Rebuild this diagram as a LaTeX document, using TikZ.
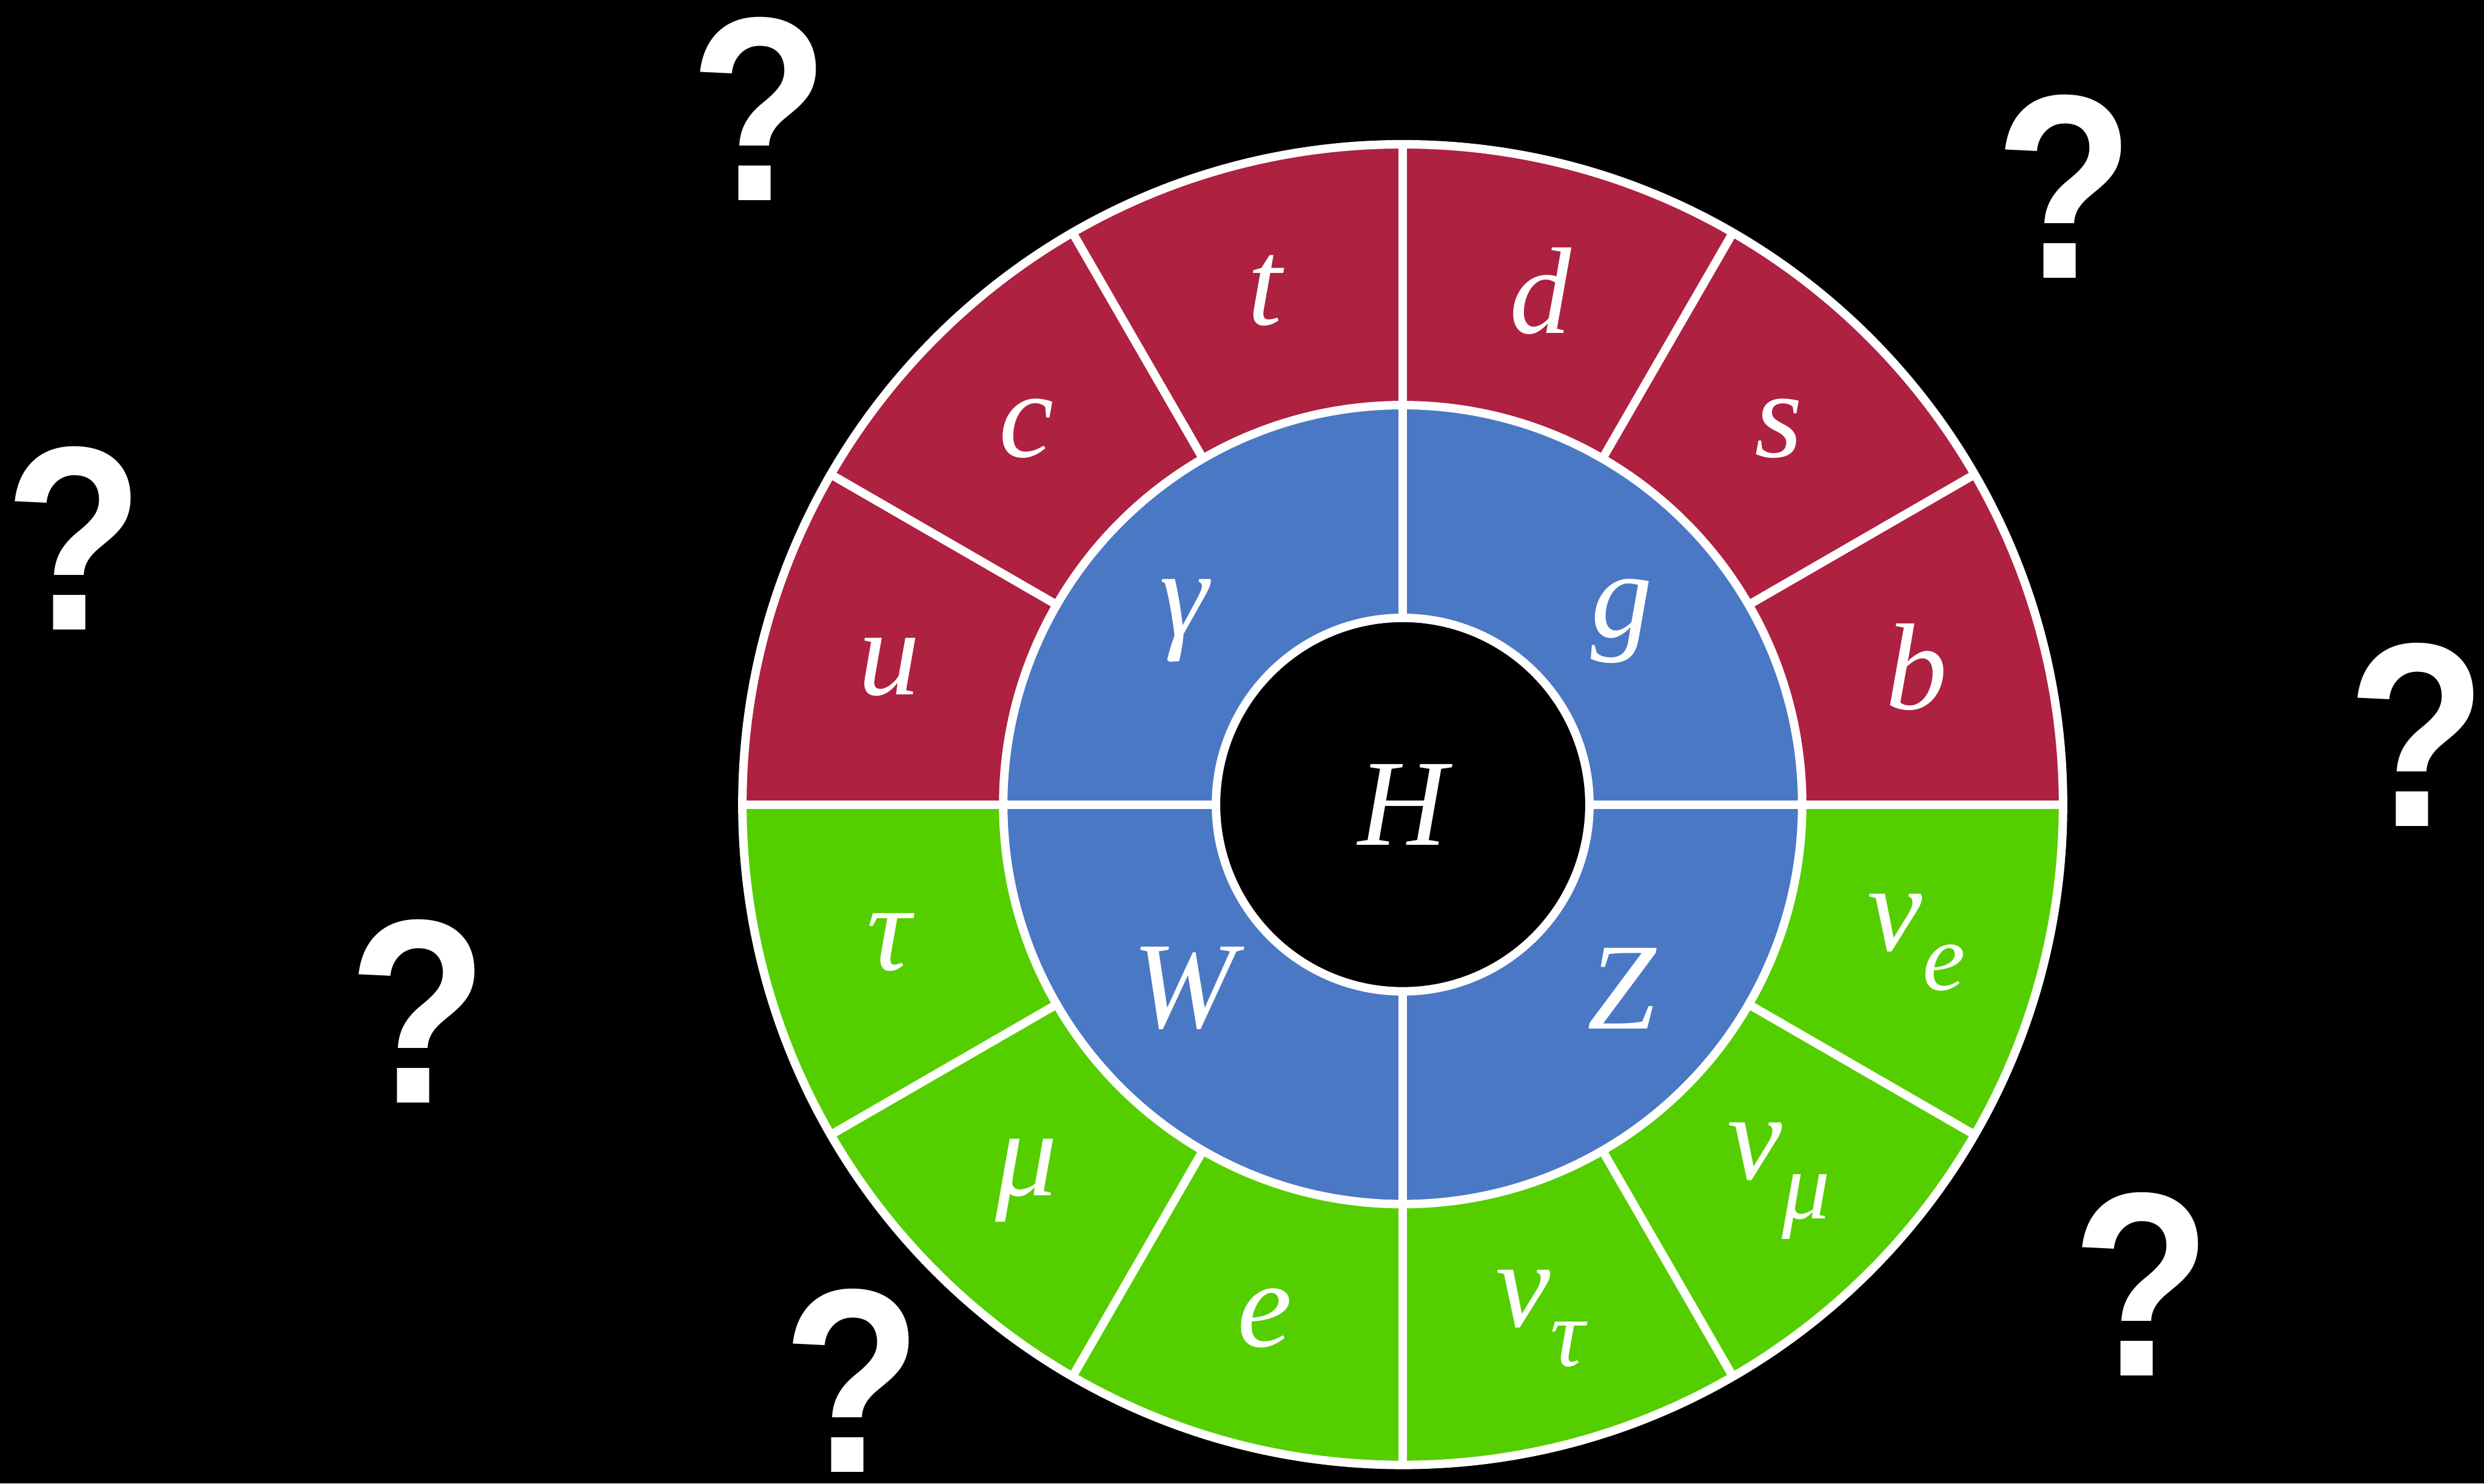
\documentclass[tikz,border=0pt]{standalone}
\usepackage{fontspec}
\setmainfont{Liberation Serif}
\newfontfamily\qfont{Liberation Sans}
\usetikzlibrary{calc}
\definecolor{qred}{HTML}{AE2140}
\definecolor{qblue}{HTML}{4A78C4}
\definecolor{qgreen}{HTML}{55CE00}
\newcommand{\lsub}[2]{#1\raisebox{-0.32em}{\scalebox{0.78}{#2}}}
\tikzset{
  ring/.style={draw=white, line width=0.15cm},
  spoke/.style={draw=white, line width=0.15cm},
  plabel/.style={text=white, inner sep=0pt, font=\fontsize{62}{62}\selectfont\itshape},
  qmark/.style={text=white, inner sep=0pt, font=\qfont\bfseries\fontsize{132}{132}\selectfont}
}

\begin{document}
\begin{tikzpicture}
  \fill[black] (0,0) rectangle (43.90,26.22);
  \useasboundingbox (0,0) rectangle (43.90,26.22);
  \coordinate (C) at (24.79,12.00);

  % fermions (outer ring) and bosons (inner ring)
  \fill[qred] ($(C)+(0:11.67)$) arc[start angle=0, end angle=180, radius=11.67] -- cycle;
  \fill[qgreen] ($(C)+(180:11.67)$) arc[start angle=180, end angle=360, radius=11.67] -- cycle;
  \fill[qblue] (C) circle[radius=7.06];
  \fill[black] (C) circle[radius=3.30];

  % dividers
  \foreach \a in {0,30,...,330}
    \draw[spoke] ($(C)+(\a:7.06)$) -- ($(C)+(\a:11.67)$);
  \foreach \a in {0,90,180,270}
    \draw[spoke] ($(C)+(\a:3.30)$) -- ($(C)+(\a:7.06)$);
  \foreach \r in {3.30,7.06,11.67}
    \draw[ring] (C) circle[radius=\r];

  % particle labels
  \foreach \a/\t [count=\i] in {165/u, 135/c, 105/t, 75/d, 45/s, 15/b,
      195/τ, 225/μ, 255/e, 285/{\lsub{ν}{τ}}, 315/{\lsub{ν}{μ}}, 345/{\lsub{ν}{e}}}
    \node[plabel] (f\i) at ($(C)+(\a:9.40)$) {\t};
  \foreach \a/\t [count=\i] in {140/γ, 40/g, 220/W, 320/Z}
    \node[plabel] (b\i) at ($(C)+(\a:5.05)$) {\t};
  \node[plabel] (higgs) at (C) {H};

  % question marks
  \node[qmark] (q1) at (13.42,24.30) {\scalebox{0.87}[1]{?}};
  \node[qmark] (q2) at (36.49,22.92) {\scalebox{0.87}[1]{?}};
  \node[qmark] (q3) at (1.31,16.71) {\scalebox{0.87}[1]{?}};
  \node[qmark] (q4) at (42.72,13.24) {\scalebox{0.87}[1]{?}};
  \node[qmark] (q5) at (7.39,8.35) {\scalebox{0.87}[1]{?}};
  \node[qmark] (q6) at (37.85,3.53) {\scalebox{0.87}[1]{?}};
  \node[qmark] (q7) at (15.06,1.82) {\scalebox{0.87}[1]{?}};
\end{tikzpicture}
\end{document}
